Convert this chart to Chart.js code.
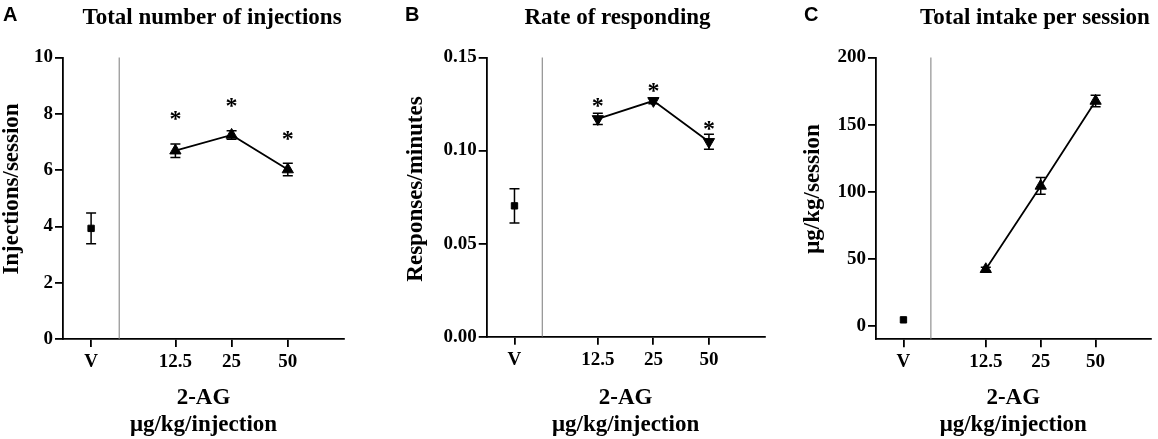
<!DOCTYPE html>
<html>
<head>
<meta charset="utf-8">
<script src="https://cdn.jsdelivr.net/npm/chart.js@4"></script>
<style>
  body { margin: 0; background: #fff; }
  .panel { position: absolute; top: 0; width: 386px; height: 439px; }
</style>
</head>
<body>
<div class="panel" style="left:0px"><canvas id="chartA"></canvas></div>
<div class="panel" style="left:386px"><canvas id="chartB"></canvas></div>
<div class="panel" style="left:772px"><canvas id="chartC"></canvas></div>
<script>
// doses of 2-AG (V = vehicle); positions on the x axis leave a gap after V
const doseLabels = ["V", "12.5", "25", "50"];
const dosePos = [0, 1.5, 2.5, 3.5];
const dividerAt = 0.5;

// A: total number of injections
const injMean = [3.93, 6.69, 7.25, 6.02];
const injSem = [0.55, 0.24, 0.15, 0.22];
const injStars = [null, 7.94, 8.41, 7.26];
const injTicks = [0, 2, 4, 6, 8, 10];

// B: rate of responding
const rateMean = [0.0703, 0.117, 0.1267, 0.1047];
const rateSem = [0.0092, 0.003, 0.0015, 0.004];
const rateStars = [null, 0.1262, 0.1339, 0.114];
const rateTicks = [0, 0.05, 0.10, 0.15];

// C: total intake per session
const intakeMean = [4.5, 42.2, 104.3, 167.6];
const intakeSem = [0, 1.5, 6.3, 4.35];
const intakeStars = [null, null, null, null];
const intakeTicks = [0, 50, 100, 150, 200];

const serif = "'Liberation Serif', 'Times New Roman', serif";
const sans = "'Liberation Sans', Arial, sans-serif";

const divider = {
  id: "divider",
  beforeDatasetsDraw(chart) {
    const {ctx, chartArea, scales} = chart;
    const px = scales.x.getPixelForValue(dividerAt);
    ctx.save();
    ctx.strokeStyle = "#7a7a7a";
    ctx.lineWidth = 1;
    ctx.beginPath();
    ctx.moveTo(px, chartArea.top);
    ctx.lineTo(px, chartArea.bottom);
    ctx.stroke();
    ctx.restore();
  }
};

const errorBars = {
  id: "errorBars",
  afterDatasetsDraw(chart) {
    const ctx = chart.ctx, x = chart.scales.x, y = chart.scales.y;
    ctx.save();
    ctx.strokeStyle = "#000";
    ctx.lineWidth = 1.5;
    chart.data.datasets.forEach(ds => {
      ds.data.forEach((p, i) => {
        const e = ds.sem[i];
        if (!e) return;
        const px = x.getPixelForValue(p.x);
        const top = y.getPixelForValue(p.y + e);
        const bot = y.getPixelForValue(p.y - e);
        ctx.beginPath();
        ctx.moveTo(px, top); ctx.lineTo(px, bot);
        ctx.moveTo(px - 5, top); ctx.lineTo(px + 5, top);
        ctx.moveTo(px - 5, bot); ctx.lineTo(px + 5, bot);
        ctx.stroke();
      });
    });
    // significance asterisks
    ctx.fillStyle = "#000";
    ctx.font = "bold 24px " + serif;
    ctx.textAlign = "center";
    ctx.textBaseline = "alphabetic";
    chart.data.datasets.forEach(ds => {
      ds.data.forEach((p, i) => {
        const s = ds.stars[i];
        if (s == null) return;
        ctx.fillText("*", x.getPixelForValue(p.x), y.getPixelForValue(s) + 11);
      });
    });
    ctx.restore();
  }
};

const panelText = {
  id: "panelText",
  afterDraw(chart, args, opts) {
    const ctx = chart.ctx;
    ctx.save();
    ctx.fillStyle = "#000";
    ctx.textBaseline = "alphabetic";
    ctx.textAlign = "left";
    ctx.font = "bold 20px " + sans;
    ctx.fillText(opts.letter, opts.letterX, 21);
    ctx.textAlign = "center";
    ctx.font = "bold 23px " + serif;
    ctx.fillText(opts.title, opts.titleX, 24);
    // y axis title, reading bottom to top
    ctx.translate(opts.yTitleX, opts.yTitleY);
    ctx.rotate(-Math.PI / 2);
    ctx.textBaseline = "middle";
    ctx.fillText(opts.yTitle, 0, 0);
    ctx.restore();
  }
};

function makePanel(id, p) {
  const veh = {
    data: [{x: dosePos[0], y: p.mean[0]}],
    sem: [p.sem[0]],
    stars: [p.stars[0]],
    showLine: false,
    pointStyle: "rect",
    pointRadius: 4.5,
    backgroundColor: "#000",
    borderColor: "#000"
  };
  const dose = {
    data: dosePos.slice(1).map((x, i) => ({x: x, y: p.mean[i + 1]})),
    sem: p.sem.slice(1),
    stars: p.stars.slice(1),
    showLine: true,
    borderWidth: 1.8,
    pointStyle: "triangle",
    pointRotation: p.rotation,
    pointRadius: 6.5,
    pointBorderWidth: 1,
    backgroundColor: "#000",
    borderColor: "#000"
  };
  const tickFont = {family: serif, size: 19, weight: "bold"};
  const axisGrid = {drawOnChartArea: false, color: "#000", tickLength: 8, lineWidth: 1.8};
  const axisBorder = {display: true, color: "#000", width: 1.8};
  return new Chart(document.getElementById(id), {
    type: "scatter",
    data: {datasets: [veh, dose]},
    options: {
      responsive: true,
      maintainAspectRatio: false,
      animation: false,
      layout: {padding: {top: 57.5, left: 0, right: p.padRight, bottom: 0}},
      plugins: {
        legend: {display: false},
        tooltip: {enabled: false},
        panelText: {
          letter: p.letter, letterX: p.letterX, title: p.title, titleX: p.titleX,
          yTitle: p.yTitle, yTitleX: p.yTitleX, yTitleY: 189
        }
      },
      scales: {
        x: {
          type: "linear",
          min: -0.5,
          max: 4.5,
          afterBuildTicks: s => { s.ticks = dosePos.map(v => ({value: v})); },
          afterFit: s => { s.height = p.xHeight; },
          grid: axisGrid,
          border: axisBorder,
          ticks: {
            color: "#000",
            font: tickFont,
            padding: 3.5,
            autoSkip: false,
            maxRotation: 0,
            callback: v => doseLabels[dosePos.indexOf(v)]
          },
          title: {
            display: true,
            text: ["2-AG", "\u03bcg/kg/injection"],
            color: "#000",
            font: {family: serif, size: 23, weight: "bold", lineHeight: 1.2},
            padding: 0
          }
        },
        y: {
          min: p.min,
          max: p.max,
          afterBuildTicks: s => { s.ticks = p.ticks.map(v => ({value: v})); },
          afterFit: s => { s.width = p.yWidth; },
          grid: axisGrid,
          border: axisBorder,
          ticks: {
            color: "#000",
            font: tickFont,
            padding: 2,
            callback: p.fmt
          }
        }
      }
    },
    plugins: [divider, errorBars, panelText]
  });
}

makePanel("chartA", {
  mean: injMean, sem: injSem, stars: injStars, ticks: injTicks,
  min: 0, max: 10, fmt: v => String(v), rotation: 0,
  yTitle: "Injections/session", yTitleX: 12, yWidth: 63, xHeight: 100, padRight: 42,
  letter: "A", letterX: 3, title: "Total number of injections", titleX: 212
});

makePanel("chartB", {
  mean: rateMean, sem: rateSem, stars: rateStars, ticks: rateTicks,
  min: 0, max: 0.15, fmt: v => v.toFixed(2), rotation: 180,
  yTitle: "Responses/minutes", yTitleX: 30, yWidth: 100.7, xHeight: 102.3, padRight: 7,
  letter: "B", letterX: 19, title: "Rate of responding", titleX: 231.5
});

makePanel("chartC", {
  mean: intakeMean, sem: intakeSem, stars: intakeStars, ticks: intakeTicks,
  min: -10, max: 200, fmt: v => String(v), rotation: 0,
  yTitle: "\u03bcg/kg/session", yTitleX: 41, yWidth: 104, xHeight: 99.7, padRight: 0,
  letter: "C", letterX: 32, title: "Total intake per session", titleX: 263
});
</script>
</body>
</html>
